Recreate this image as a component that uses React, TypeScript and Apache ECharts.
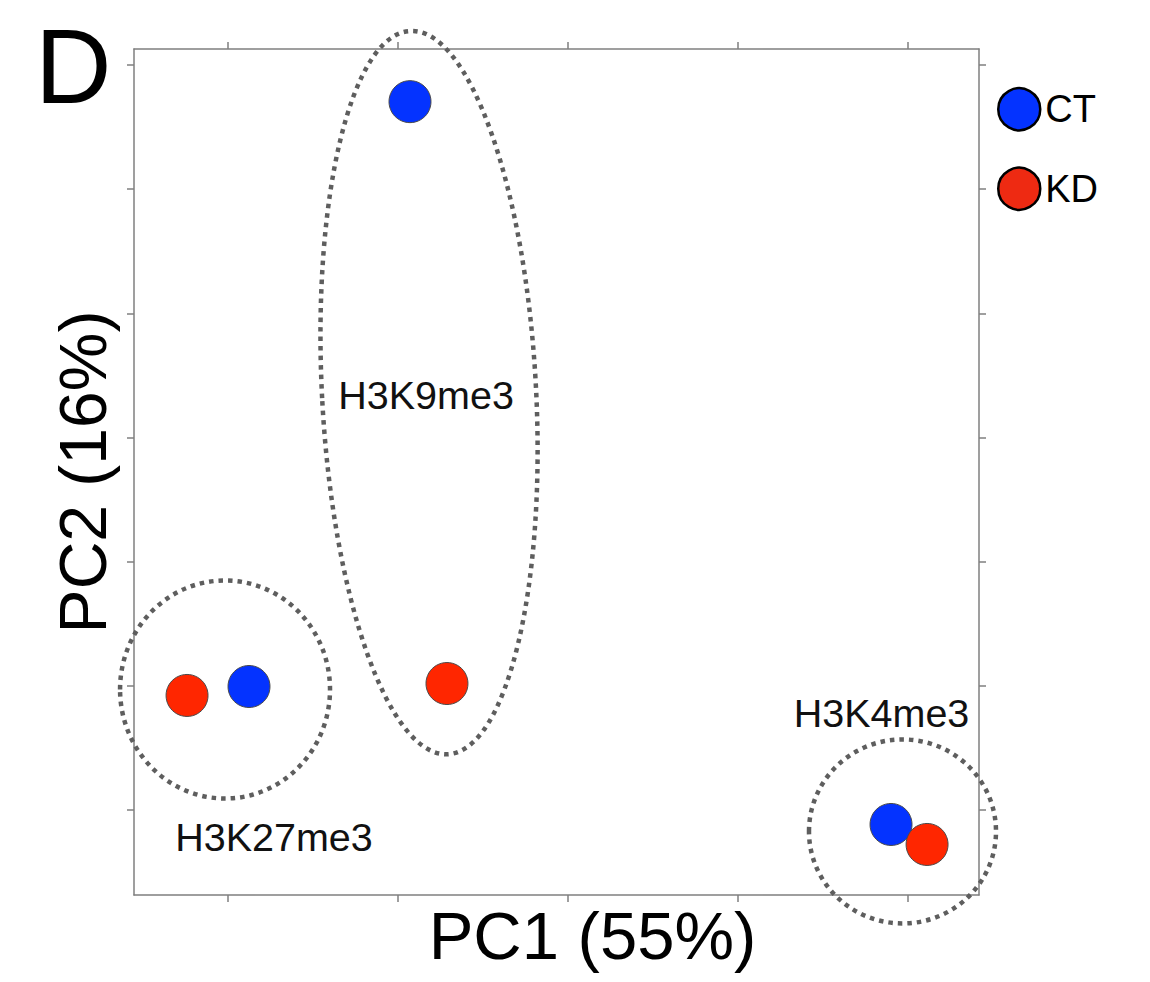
import React, { useEffect, useRef } from "react";
import * as echarts from "echarts";

const FONT = "'Liberation Sans', Arial, Helvetica, sans-serif";

// axis scale (PC units, no labels shown in reference)
const X_TICKS = [-40, -20, 0, 20, 40];
const Y_TICKS = [-30, -20, -10, 0, 10, 20, 30];
const X_RANGE = [-51.06, 48.35];
const Y_RANGE = [-36.84, 31.29];

// samples
const SERIES_NAMES = ["CT", "KD"];
const CT_POINTS = [
  [-37.53, -20.05],
  [-18.59, 27.05],
  [38.0, -31.16],
];
const KD_POINTS = [
  [-44.82, -20.77],
  [-14.24, -19.81],
  [42.24, -32.77],
];

// cluster annotations (data units)
const GROUP_NAMES = ["H3K27me3", "H3K9me3", "H3K4me3"];
const GROUP_CENTERS = [
  [-40.35, -20.29],
  [-16.35, 3.62],
  [39.35, -31.72],
];
const GROUP_RADII = [
  [12.35, 8.78],
  [12.59, 29.15],
  [11.0, 7.41],
];
const GROUP_TILT = [0, 3, 0];
const GROUP_LABEL_AT = [
  [-34.59, -32.13],
  [-16.7, 3.46],
  [36.88, -22.22],
];

const CT_COLOR = "#0433FF";
const KD_COLOR = "#FF2600";

export default function App() {
  const ref = useRef<HTMLDivElement>(null);
  useEffect(() => {
    if (!ref.current) return;
    const chart = echarts.init(ref.current, undefined, { renderer: "svg" });

    const groupData = GROUP_NAMES.map((n, i) => ({
      name: n,
      value: [
        GROUP_CENTERS[i][0],
        GROUP_CENTERS[i][1],
        GROUP_RADII[i][0] * 2,
        GROUP_RADII[i][1] * 2,
        GROUP_TILT[i],
        GROUP_LABEL_AT[i][0],
        GROUP_LABEL_AT[i][1],
      ],
    }));

    const axisLine = { show: true, onZero: false, lineStyle: { color: "#7f7f7f", width: 1.5 } };
    const xAxisBase = (pos: string) => ({
      type: "value",
      position: pos,
      min: X_RANGE[0],
      max: X_RANGE[1],
      axisLine,
      axisTick: { show: true, length: 7, inside: false, customValues: X_TICKS, lineStyle: { color: "#7f7f7f", width: 1.5 } },
      axisLabel: { show: false },
      splitLine: { show: false },
    });
    const yAxisBase = (pos: string) => ({
      type: "value",
      position: pos,
      min: Y_RANGE[0],
      max: Y_RANGE[1],
      axisLine,
      axisTick: { show: true, length: 7, inside: false, customValues: Y_TICKS, lineStyle: { color: "#7f7f7f", width: 1.5 } },
      axisLabel: { show: false },
      splitLine: { show: false },
    });

    chart.setOption({
      animation: false,
      backgroundColor: "#ffffff",
      grid: { left: 134, top: 49, right: 171, bottom: 87, containLabel: false },
      xAxis: [
        {
          ...xAxisBase("bottom"),
          name: "PC1 (55%)",
          nameLocation: "middle",
          nameGap: 7,
          nameTextStyle: { fontSize: 67, fontFamily: FONT, color: "#000", padding: [0, 0, 0, 72] },
        },
        { ...xAxisBase("top") },
      ],
      yAxis: [
        {
          ...yAxisBase("left"),
          name: "PC2 (16%)",
          nameLocation: "middle",
          nameRotate: 90,
          nameGap: 18,
          nameTextStyle: { fontSize: 66, fontFamily: FONT, color: "#000" },
        },
        { ...yAxisBase("right") },
      ],
      legend: {
        orient: "vertical",
        left: 997,
        top: 87,
        padding: 0,
        itemWidth: 42,
        itemHeight: 42,
        itemGap: 35,
        icon: "circle",
        selectedMode: false,
        textStyle: { fontSize: 38, fontFamily: FONT, color: "#000" },
        data: [
          { name: "CT", itemStyle: { color: CT_COLOR, borderColor: "#000", borderWidth: 2.5 } },
          { name: "KD", itemStyle: { color: "#EE2A12", borderColor: "#000", borderWidth: 2.5 } },
        ],
      },
      graphic: [
        {
          type: "text",
          left: 35,
          top: 13,
          style: { text: "D", fontSize: 106, fontFamily: FONT, fill: "#000" },
        },
      ],
      series: [
        {
          type: "custom",
          name: "clusters",
          clip: false,
          z: 1,
          silent: true,
          encode: { x: 0, y: 1 },
          data: groupData,
          renderItem: (params: any, api: any) => {
            const i = params.dataIndex;
            const c = api.coord([api.value(0), api.value(1)]);
            const s = api.size([api.value(2), api.value(3)]);
            const l = api.coord([api.value(5), api.value(6)]);
            return {
              type: "group",
              children: [
                {
                  type: "ellipse",
                  x: c[0],
                  y: c[1],
                  rotation: (api.value(4) * Math.PI) / 180,
                  shape: { cx: 0, cy: 0, rx: s[0] / 2, ry: s[1] / 2 },
                  style: { fill: "none", stroke: "#5e5e5e", lineWidth: 4.5, lineDash: [4.5, 5] },
                },
                {
                  type: "text",
                  x: l[0],
                  y: l[1],
                  style: {
                    text: GROUP_NAMES[i],
                    fontSize: 39.5,
                    fontFamily: FONT,
                    fill: "#111",
                    align: "center",
                    verticalAlign: "middle",
                  },
                },
              ],
            };
          },
        },
        {
          type: "scatter",
          name: SERIES_NAMES[0],
          z: 3,
          symbolSize: 42,
          itemStyle: { color: CT_COLOR, borderColor: "#4a4a4a", borderWidth: 1, opacity: 1 },
          data: CT_POINTS,
        },
        {
          type: "scatter",
          name: SERIES_NAMES[1],
          z: 3,
          symbolSize: 42,
          itemStyle: { color: KD_COLOR, borderColor: "#4a4a4a", borderWidth: 1, opacity: 1 },
          data: KD_POINTS,
        },
      ],
    });
    return () => chart.dispose();
  }, []);

  return (
    <div
      ref={ref}
      style={{ position: "fixed", left: 0, top: 0, width: 1150, height: 982, background: "#fff" }}
    />
  );
}
